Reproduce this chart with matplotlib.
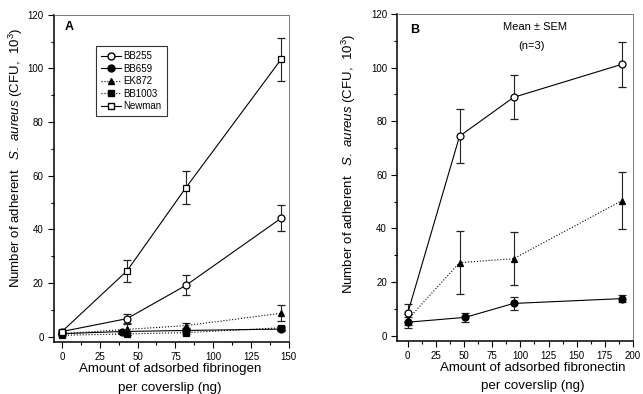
import matplotlib
matplotlib.use('Agg')
import matplotlib.pyplot as plt
from matplotlib.ticker import MultipleLocator
from matplotlib.lines import Line2D

plt.rcParams['font.family'] = ['Liberation Sans', 'DejaVu Sans']
plt.rcParams['mathtext.fontset'] = 'custom'
plt.rcParams['mathtext.rm'] = 'Liberation Sans'
plt.rcParams['mathtext.it'] = 'Liberation Sans:italic'

# panel A: fibrinogen
fg_x = [0, 43, 82, 145]
bb255_a = [2, 6.8, 19.2, 44.2]
bb255_a_err = [0.5, 1.8, 3.7, 4.8]
bb659_a_x = [0, 40, 82, 145]
bb659_a = [1.2, 2.0, 2.4, 2.9]
bb659_a_err = [0.3, 0.5, 0.5, 0.6]
ek872_a = [1.2, 2.8, 4.2, 8.8]
ek872_a_err = [0.3, 2.0, 1.0, 3.0]
bb1003_a = [0.6, 1.1, 1.6, 3.4]
bb1003_a_err = [0.3, 0.4, 0.5, 0.7]
newman_a = [2, 24.6, 55.6, 103.4]
newman_a_err = [0.5, 4.0, 6.0, 8.0]

# panel B: fibronectin
fn_x = [0, 46, 94, 190]
bb255_b = [8.4, 74.4, 88.9, 101.2]
bb255_b_err = [3.5, 10.1, 8.2, 8.4]
bb659_b_x = [0, 51, 94, 190]
bb659_b = [5.0, 6.8, 12.0, 13.8]
bb659_b_err = [2.0, 1.7, 2.5, 1.3]
ek872_b = [6.0, 27.2, 28.7, 50.3]
ek872_b_err = [2.0, 11.8, 9.8, 10.7]

legend_labels = ['BB255', 'BB659', 'EK872', 'BB1003', 'Newman']
styles = [('o', 'white', '-'), ('o', 'black', '-'), ('^', 'black', ':'),
          ('s', 'black', ':'), ('s', 'white', '-')]

fig = plt.figure(figsize=(6.43, 3.94), dpi=100)
axA = fig.add_axes([0.084, 0.132, 0.3655, 0.8307])
axB = fig.add_axes([0.618, 0.1353, 0.3664, 0.8292])

common = dict(color='black', lw=0.8, markersize=5, capsize=3, elinewidth=0.8,
              capthick=0.8, markeredgewidth=0.9, ecolor='#222222')

def series(ax, x, y, err, style):
    marker, face, ls = style
    ax.errorbar(x, y, yerr=err, marker=marker, markerfacecolor=face,
                markeredgecolor='black', linestyle=ls, **common)

series(axA, fg_x, bb255_a, bb255_a_err, styles[0])
series(axA, bb659_a_x, bb659_a, bb659_a_err, styles[1])
series(axA, fg_x, ek872_a, ek872_a_err, styles[2])
series(axA, fg_x, bb1003_a, bb1003_a_err, styles[3])
series(axA, fg_x, newman_a, newman_a_err, styles[4])

series(axB, fn_x, ek872_b, ek872_b_err, styles[2])
series(axB, bb659_b_x, bb659_b, bb659_b_err, styles[1])
series(axB, fn_x, bb255_b, bb255_b_err, styles[0])

axA.set_xlim(-5.3, 150.2)
axB.set_xlim(-9.2, 200)
for ax in (axA, axB):
    ax.set_ylim(-1.9, 120)
    ax.yaxis.set_major_locator(MultipleLocator(20))
    ax.yaxis.set_minor_locator(MultipleLocator(10))
    ax.xaxis.set_major_locator(MultipleLocator(25))
    ax.xaxis.set_minor_locator(MultipleLocator(12.5))
    ax.tick_params(which='both', direction='out', labelsize=7, width=0.8)
    ax.tick_params(which='major', length=4)
    ax.tick_params(which='minor', length=2.5)
    ax.spines['left'].set_linewidth(1.1)
    ax.spines['bottom'].set_linewidth(1.1)
    for s in ('top', 'right'):
        ax.spines[s].set_linewidth(0.7)
        ax.spines[s].set_color('#777777')
    ax.set_ylabel(r'Number of adherent   $\it{S.\ aureus}$ (CFU,  10$^3$)', fontsize=9.5)

axA.set_xlabel('Amount of adsorbed fibrinogen\nper coverslip (ng)', fontsize=9.6,
               linespacing=1.75)
axB.set_xlabel('Amount of adsorbed fibronectin\nper coverslip (ng)', fontsize=9.6,
               linespacing=1.75)
axA.xaxis.set_label_coords(0.494, -0.064, transform=axA.transAxes)
axB.xaxis.set_label_coords(0.576, -0.064, transform=axB.transAxes)
axA.yaxis.set_label_coords(-0.123, 0.562)
axB.yaxis.set_label_coords(-0.167, 0.542)
axA.xaxis.label.set_va('top')
axB.xaxis.label.set_va('top')

axA.text(2, 115.5, 'A', fontsize=9, fontweight='bold', ha='left', va='center')
axB.text(2.4, 114, 'B', fontsize=9, fontweight='bold', ha='left', va='center')
axB.text(113, 115, 'Mean \u00b1 SEM', fontsize=8, ha='center', va='center')
axB.text(110, 108, '(n=3)', fontsize=8, ha='center', va='center')

handles = [Line2D([], [], color='black', lw=0.8, marker=m, markersize=5,
                  markerfacecolor=f, markeredgecolor='black', linestyle=ls)
           for m, f, ls in styles]
leg = axA.legend(handles, legend_labels, loc='upper left',
                 bbox_to_anchor=(0.16, 0.918), fontsize=7, numpoints=1,
                 frameon=True, fancybox=False, edgecolor='black',
                 handlelength=2.0, labelspacing=0.25, borderpad=0.5,
                 handletextpad=0.3)
leg.get_frame().set_linewidth(0.8)

fig.savefig('out.png', dpi=100)
